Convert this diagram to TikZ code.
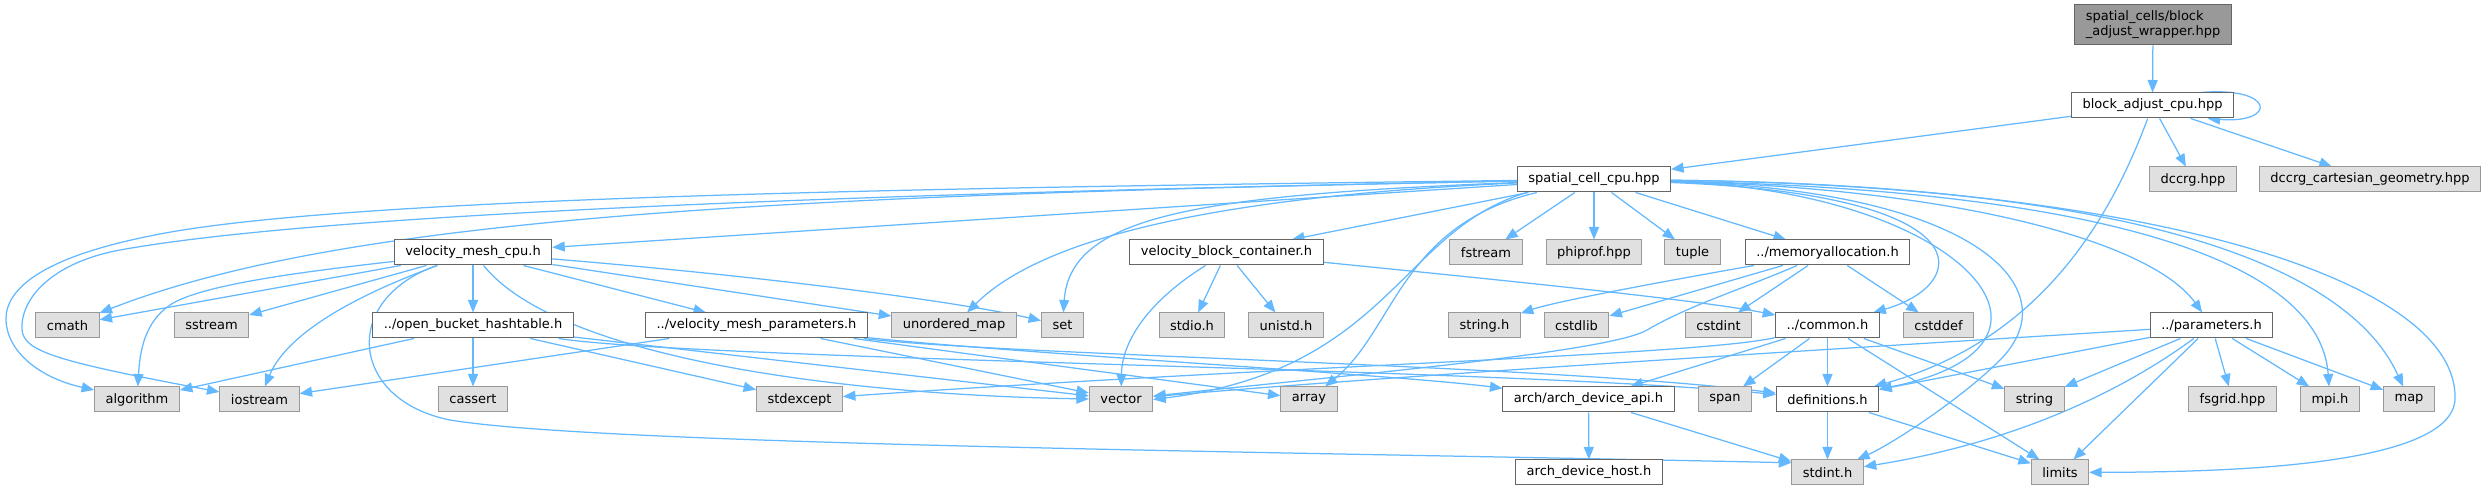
\documentclass[tikz,border=0pt]{standalone}
\usepackage{fontspec}
\setmainfont{DejaVu Sans}
\usetikzlibrary{arrows.meta,calc,backgrounds}
\definecolor{depblue}{HTML}{63B8FF}
\definecolor{extfill}{HTML}{E0E0E0}
\definecolor{extline}{HTML}{999999}
\definecolor{docline}{HTML}{666666}
\definecolor{rootfill}{HTML}{999999}
\begin{document}
\begin{tikzpicture}[x=0.4pt,y=-0.4pt,
	doc/.style={draw=docline,fill=white},
	ext/.style={draw=extline,fill=extfill},
	root/.style={draw=docline,fill=rootfill,align=left,minimum height=16pt},
	dep/.style={draw=depblue,line width=0.5pt,-{Triangle[length=5pt,width=4pt]}}]
		\tikzstyle{every node}+=[font=\fontsize{5.2}{6}\selectfont,inner xsep=4.4pt,inner ysep=0pt,minimum height=10pt,line width=0.4pt]
		\useasboundingbox (0,0) rectangle (2486,491);
		\node [root] (wrap) at (2153,25) {spatial\_cells/block\\\_adjust\_wrapper.hpp};
		\node [doc] (bac) at (2152.5,105.5) {block\_adjust\_cpu.hpp};
		\node [doc] (scc) at (1594,179.5) {spatial\_cell\_cpu.hpp};
		\node [ext] (dccrg) at (2193,179.5) {dccrg.hpp};
		\node [ext] (dcg) at (2370,179.5) {dccrg\_cartesian\_geometry.hpp};
		\node [doc] (vmc) at (473,252.5) {velocity\_mesh\_cpu.h};
		\node [doc] (vbc) at (1226.5,252.5) {velocity\_block\_container.h};
		\node [ext] (fstream) at (1486,252.5) {fstream};
		\node [ext] (phiprof) at (1594,252.5) {phiprof.hpp};
		\node [ext] (tuple) at (1692.5,252.5) {tuple};
		\node [doc] (mem) at (1827.5,252.5) {../memoryallocation.h};
		\node [ext] (cmath) at (67.5,325.5) {cmath};
		\node [ext] (sstream) at (211.5,325.5) {sstream};
		\node [doc] (obh) at (473,325.5) {../open\_bucket\_hashtable.h};
		\node [doc] (vmp) at (756.5,325.5) {../velocity\_mesh\_parameters.h};
		\node [ext] (umap) at (954,325.5) {unordered\_map};
		\node [ext] (set) at (1062.5,325.5) {set};
		\node [ext] (stdio) at (1192,325.5) {stdio.h};
		\node [ext] (unistd) at (1286,325.5) {unistd.h};
		\node [ext] (stringh) at (1484.5,325.5) {string.h};
		\node [ext] (cstdlib) at (1576.5,325.5) {cstdlib};
		\node [ext] (cstdint) at (1718.5,325.5) {cstdint};
		\node [doc] (common) at (1827.5,325.5) {../common.h};
		\node [ext] (cstddef) at (1938.5,325.5) {cstddef};
		\node [doc] (params) at (2211.5,325.5) {../parameters.h};
		\node [ext] (algorithm) at (137,399.5) {algorithm};
		\node [ext] (iostream) at (259.5,399.5) {iostream};
		\node [ext] (cassert) at (473,399.5) {cassert};
		\node [ext] (stdexcept) at (799.5,399.5) {stdexcept};
		\node [ext] (vector) at (1121,399.5) {vector};
		\node [ext] (array) at (1309,399.5) {array};
		\node [doc] (api) at (1588.5,399.5) {arch/arch\_device\_api.h};
		\node [ext] (span) at (1725,399.5) {span};
		\node [doc] (defs) at (1827.5,399.5) {definitions.h};
		\node [ext] (string) at (2034.5,399.5) {string};
		\node [ext] (fsgrid) at (2232.5,399.5) {fsgrid.hpp};
		\node [ext] (mpi) at (2330,399.5) {mpi.h};
		\node [ext] (map) at (2409,399.5) {map};
		\node [doc] (host) at (1589,472.5) {arch\_device\_host.h};
		\node [ext] (stdint) at (1827.5,472.5) {stdint.h};
		\node [ext] (limits) at (2060,472.5) {limits};
		\begin{scope}[on background layer]
		\draw [dep] (wrap) -- (bac);
		\draw [dep] ($(bac.north)+(48,0)$) .. controls (2275,86) and (2278,124) .. ($(bac.south)+(55,0)$);
		\draw [dep] (bac) -- (scc);
		\draw [dep] (bac) -- (dccrg);
		\draw [dep] (bac) -- (dcg);
		\draw [dep] (bac) .. controls (2110,220) and (2040,340) .. (defs);
		\draw [dep] (scc) -- (vmc);
		\draw [dep] (scc) -- (vbc);
		\draw [dep] (scc) -- (fstream);
		\draw [dep] (scc) -- (phiprof);
		\draw [dep] (scc) -- (tuple);
		\draw [dep] (scc) -- (mem);
		\draw [dep] (scc) .. controls (1990,195) and (1970,285) .. (common);
		\draw [dep] (scc) .. controls (1950,188) and (2150,240) .. (params);
		\draw [dep] (scc) .. controls (1960,190) and (2100,345) .. (defs);
		\draw [dep] (scc) .. controls (1980,190) and (2070,290) .. (2000,360) .. controls (1960,400) and (1890,445) .. (stdint);
		\draw [dep] (scc) .. controls (2100,190) and (2320,260) .. (mpi);
		\draw [dep] (scc) .. controls (2150,185) and (2350,270) .. (map);
		\draw [dep] (scc) .. controls (2150,185) and (2460,280) .. (2455,400) .. controls (2450,470) and (2200,472) .. (limits);
		\draw [dep] (scc) .. controls (900,188) and (330,198) .. (150,236) .. controls (40,258) and (5,290) .. (6,320) .. controls (7,352) and (40,378) .. (algorithm);
		\draw [dep] (scc) .. controls (900,193) and (330,212) .. (120,250) .. controls (50,263) and (20,300) .. (22,330) .. controls (24,352) and (60,362) .. (iostream);
		\draw [dep] (scc) .. controls (800,195) and (350,215) .. (cmath);
		\draw [dep] (scc) .. controls (1250,195) and (1050,230) .. (umap);
		\draw [dep] (scc) .. controls (1200,195) and (1070,215) .. (set);
		\draw [dep] ($(scc.south west)+(10,0)$) .. controls (1400,230) and (1390,370) .. (vector.east);
		\draw [dep] ($(scc.south west)+(20,0)$) .. controls (1400,225) and (1395,330) .. (array);
		\draw [dep] (vmc) -- (cmath);
		\draw [dep] (vmc) -- (sstream);
		\draw [dep] (vmc) -- (obh);
		\draw [dep] (vmc) -- (vmp);
		\draw [dep] (vmc) -- (umap);
		\draw [dep] (vmc) .. controls (750,275) and (950,300) .. (set);
		\draw [dep] (vmc) .. controls (300,272) and (200,285) .. (170,305) .. controls (145,322) and (140,350) .. (algorithm);
		\draw [dep] (vmc) .. controls (316,310) and (280,350) .. (iostream);
		\draw [dep] (vmc) .. controls (560,360) and (850,395) .. (vector);
		\draw [dep] (vmc) .. controls (340,300) and (350,400) .. (450,420) .. controls (600,445) and (1300,452) .. (stdint.165);
		\draw [dep] (obh) -- (algorithm);
		\draw [dep] (obh) -- (cassert);
		\draw [dep] (obh) -- (stdexcept);
		\draw [dep] (obh) -- (vector);
		\draw [dep] (obh) .. controls (700,360) and (1500,368) .. (defs);
		\draw [dep] (vmp) -- (iostream);
		\draw [dep] (vmp) -- (vector);
		\draw [dep] (vmp) -- (array);
		\draw [dep] (vmp) .. controls (1000,355) and (1550,365) .. (defs);
		\draw [dep] (vmp) .. controls (1000,352) and (1400,375) .. (api);
		\draw [dep] (vbc) -- (stdio);
		\draw [dep] (vbc) -- (unistd);
		\draw [dep] (vbc) .. controls (1150,300) and (1122,340) .. (vector);
		\draw [dep] (vbc) .. controls (1500,280) and (1700,300) .. (common);
		\draw [dep] (mem) .. controls (1700,275) and (1560,300) .. (stringh);
		\draw [dep] (mem) -- (cstdlib);
		\draw [dep] (mem) -- (cstdint);
		\draw [dep] (mem) -- (cstddef);
		\draw [dep] (mem) .. controls (1740,290) and (1690,305) .. (1647,330) .. controls (1610,352) and (1350,375) .. (vector);
		\draw [dep] (common) .. controls (1700,355) and (1300,365) .. (stdexcept);
		\draw [dep] (common) -- (api);
		\draw [dep] (common) -- (span);
		\draw [dep] (common) -- (defs);
		\draw [dep] (common) -- (string);
		\draw [dep] (common) -- (limits);
		\draw [dep] (params) .. controls (1900,345) and (1400,375) .. (vector);
		\draw [dep] (params) -- (defs);
		\draw [dep] (params) -- (string);
		\draw [dep] (params) .. controls (2110,400) and (2000,445) .. (stdint);
		\draw [dep] (params) -- (limits);
		\draw [dep] (params) -- (fsgrid);
		\draw [dep] (params) -- (mpi);
		\draw [dep] (params) -- (map);
		\draw [dep] (defs) -- (stdint);
		\draw [dep] (defs) -- (limits);
		\draw [dep] (api) -- (host);
		\draw [dep] (api) -- (stdint);
		\end{scope}
	\end{tikzpicture}
\end{document}
